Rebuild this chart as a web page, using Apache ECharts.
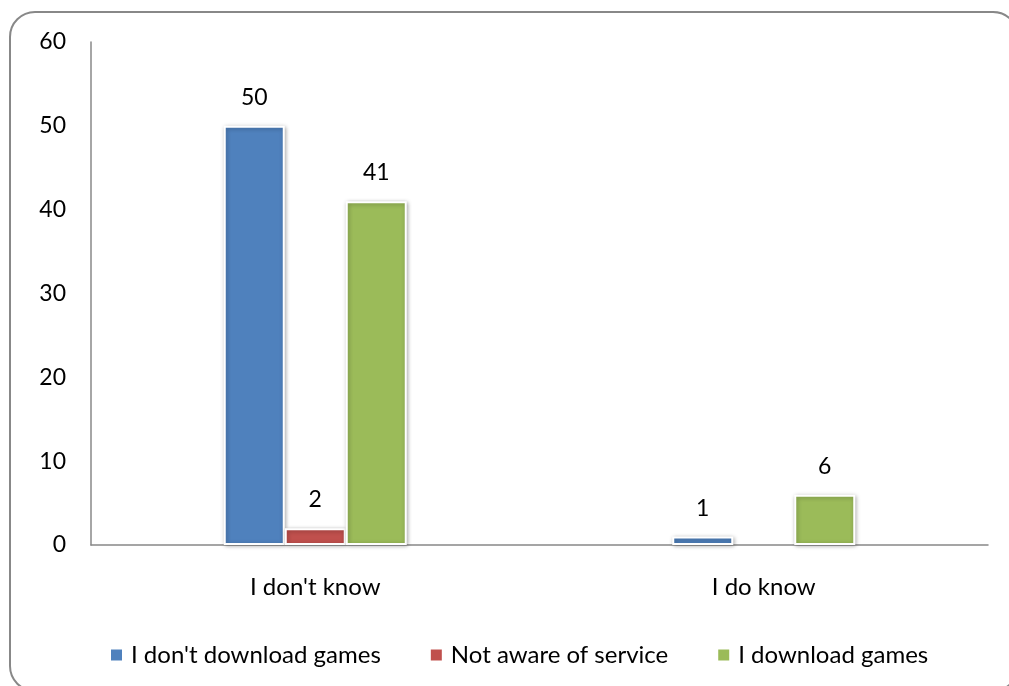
<!DOCTYPE html>
<html><head><meta charset="utf-8">
<script src="https://cdn.jsdelivr.net/npm/echarts@6/dist/echarts.min.js"></script>
<style>html,body{margin:0;padding:0;background:#fff}#c{width:1009px;height:686px}</style>
</head><body><div id="c"></div>
<script>
const categories = ["I don't know", "I do know"];
const seriesNames = ["I don't download games", "Not aware of service", "I download games"];
const dontDownload = [50, 1];
const notAware = [2, null];
const download = [41, 6];
const yTicks = [0, 10, 20, 30, 40, 50, 60];
const colors = ['#4F81BD', '#C0504D', '#9BBB59'];
const FONT = 'Lato, "Open Sans", sans-serif';

const chart = echarts.init(document.getElementById('c'));
const mk = (name, data, color) => ({
  name, type: 'bar', data,
  barWidth: 61, barGap: '0%',
  itemStyle: { color, borderColor: '#fff', borderWidth: 2, shadowBlur: 4, shadowColor: 'rgba(0,0,0,0.3)', shadowOffsetX: 1, shadowOffsetY: 1 },
  label: { show: true, position: 'top', distance: 17, color: '#000', fontSize: 23, fontFamily: FONT },
  emphasis: { disabled: true }
});
chart.setOption({
  animation: false,
  color: colors,
  graphic: [{ type: 'rect', shape: { x: 10, y: 12, width: 1008, height: 679, r: 25 }, style: { fill: 'none', stroke: '#888', lineWidth: 2 }, z: -1 }],
  grid: { left: 91, right: 21, top: 42, bottom: 141 },
  legend: {
    top: 638, left: 104, itemWidth: 13, itemHeight: 13, itemGap: 48,
    icon: 'rect',
    textStyle: { fontSize: 24, fontFamily: FONT, color: '#000', padding: [0, 0, 0, 3] },
    data: seriesNames
  },
  xAxis: {
    type: 'category', data: categories,
    axisLine: { lineStyle: { color: '#888', width: 1.5 } },
    axisTick: { show: false },
    axisLabel: { fontSize: 24, fontFamily: FONT, color: '#000', margin: 30 }
  },
  yAxis: {
    type: 'value', min: yTicks[0], max: yTicks[yTicks.length - 1], interval: 10,
    axisLine: { show: true, lineStyle: { color: '#888', width: 1.5 } },
    axisTick: { show: false },
    splitLine: { show: false },
    axisLabel: { fontSize: 23, fontFamily: FONT, color: '#000', margin: 25 }
  },
  series: [mk(seriesNames[0], dontDownload, colors[0]), mk(seriesNames[1], notAware, colors[1]), mk(seriesNames[2], download, colors[2])]
});
</script></body></html>
